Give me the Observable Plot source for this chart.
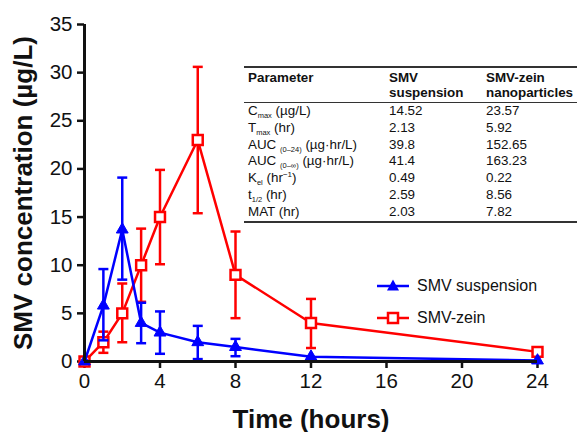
<!DOCTYPE html>
<html><head><meta charset="utf-8">
<script src="https://cdn.jsdelivr.net/npm/d3@7"></script>
<script src="https://cdn.jsdelivr.net/npm/@observablehq/plot@0.6"></script>
<style>
body{margin:0;background:#fff;font-family:"Liberation Sans",Arial,sans-serif;}
#wrap{position:relative;width:577px;height:432px;overflow:hidden;}
#tbl{position:absolute;left:244px;top:66px;width:333px;border-top:2px solid #333;border-bottom:2px solid #333;font-size:13.4px;color:#111;}
#tbl .hdr{display:flex;font-weight:bold;line-height:15px;height:32px;padding-top:2px;border-bottom:1.6px solid #333;}
#tbl .row{display:flex;height:16.8px;line-height:16.8px;white-space:nowrap;}
#tbl .c1{width:145px;padding-left:4px;box-sizing:border-box;}
#tbl .c2{width:97px;}
#tbl .c3{flex:1;white-space:nowrap;}
#tbl .sub{position:relative;top:3px;font-size:7.5px;line-height:0;}
#tbl .sup{position:relative;top:-5px;font-size:8px;line-height:0;}
#legend{position:absolute;left:376px;top:270px;font-size:16px;color:#111;}
#legend div{display:flex;align-items:center;height:32px;}
#legend svg{margin-right:7px;}
</style>
</head><body>
<div id="wrap"></div>
<script>
const times = [0, 1, 2, 3, 4, 6, 8, 12, 24];
const suspMean  = [0, 5.8, 13.7, 4.0, 3.0, 2.0, 1.5, 0.5, 0.1];
const suspUpper = [0, 9.6, 19.1, 6.1, 5.2, 3.7, 2.35, 0.5, 0.1];
const suspLower = [0, 2.2, 8.5, 1.9, 0.8, 0.25, 0.55, 0.5, 0.1];
const zeinMean  = [0, 2.0, 5.0, 10.0, 15.0, 23.0, 9.0, 4.0, 1.0];
const zeinUpper = [0, 3.1, 8.1, 13.8, 19.9, 30.6, 13.5, 6.5, 1.0];
const zeinLower = [0, 0.9, 2.0, 6.2, 10.1, 15.4, 4.5, 1.4, 1.0];
const seriesNames = ["SMV suspension", "SMV-zein"];
const xTicks = [0, 4, 8, 12, 16, 20, 24];
const yTicks = [0, 5, 10, 15, 20, 25, 30, 35];
const tableHeader = [["Parameter", ""], ["SMV", "suspension"], ["SMV-zein", "nanoparticles"]];
const paramLabels = [
  'C<span class="sub">max</span> (µg/L)',
  'T<span class="sub">max</span> (hr)',
  'AUC <span class="sub">(0–24)</span> (µg·hr/L)',
  'AUC <span class="sub">(0–∞)</span> (µg·hr/L)',
  'K<span class="sub">el</span> (hr<span class="sup">−1</span>)',
  't<span class="sub">1/2</span> (hr)',
  'MAT (hr)'];
const suspParams = ["14.52", "2.13", "39.8", "41.4", "0.49", "2.59", "2.03"];
const zeinParams = ["23.57", "5.92", "152.65", "163.23", "0.22", "8.56", "7.82"];

const BLUE = "#0000ff", RED = "#ff0000";
const susp = times.map((t, i) => ({t, m: suspMean[i], lo: suspLower[i], hi: suspUpper[i]}));
const zein = times.map((t, i) => ({t, m: zeinMean[i], lo: zeinLower[i], hi: zeinUpper[i]}));
const cap = {draw(ctx, size) { const w = Math.sqrt(size / Math.PI); ctx.moveTo(-w, 0); ctx.lineTo(w, 0); }};
const errMarks = (data, color) => {
  const d = data.filter(p => p.hi > p.lo);
  return [
    Plot.ruleX(d, {x: "t", y1: "lo", y2: "hi", stroke: color, strokeWidth: 2.5}),
    Plot.dot(d, {x: "t", y: "hi", symbol: cap, r: 5, stroke: color, strokeWidth: 2.5}),
    Plot.dot(d, {x: "t", y: "lo", symbol: cap, r: 5, stroke: color, strokeWidth: 2.5})
  ];
};

const chart = Plot.plot({
  width: 577, height: 432,
  marginLeft: 84, marginRight: 40, marginTop: 24, marginBottom: 71,
  style: {fontFamily: '"Liberation Sans", Arial, sans-serif', color: "#111", background: "transparent"},
  x: {domain: [0, 24]},
  y: {domain: [0, 35]},
  marks: [
    Plot.axisX({ticks: xTicks, tickSize: 7, tickPadding: 5, strokeWidth: 2.5, fontSize: 20.5, label: "Time (hours)", labelAnchor: "center", labelArrow: "none", labelOffset: 66}),
    Plot.axisY({ticks: yTicks, tickSize: 7, tickPadding: 5, strokeWidth: 2.5, fontSize: 20.5, label: "SMV concentration (µg/L)", labelAnchor: "center", labelArrow: "none", labelOffset: 71}),
    ...errMarks(zein, RED),
    Plot.line(zein, {x: "t", y: "m", stroke: RED, strokeWidth: 2.5}),
    Plot.dot(zein, {x: "t", y: "m", symbol: "square", r: 5.6, stroke: RED, strokeWidth: 2.5, fill: "white"}),
    ...errMarks(susp, BLUE),
    Plot.line(susp, {x: "t", y: "m", stroke: BLUE, strokeWidth: 2.5}),
    Plot.dot(susp, {x: "t", y: "m", symbol: "triangle", r: 4.4, fill: BLUE, stroke: BLUE, strokeWidth: 1}),
    Plot.ruleY([0], {stroke: "#111", strokeWidth: 3}),
    Plot.ruleX([0], {stroke: "#111", strokeWidth: 3})
  ]
});
chart.querySelectorAll("g[aria-label='x-axis label'] text, g[aria-label='y-axis label'] text").forEach(t => {
  t.setAttribute("font-weight", "bold"); t.setAttribute("font-size", "26");
});
const wrap = document.getElementById("wrap");
wrap.appendChild(chart);

// parameter table
const tbl = document.createElement("div");
tbl.id = "tbl";
let html = '<div class="hdr">' + tableHeader.map((h, j) => `<div class="c${j + 1}">${h[0]}${h[1] ? "<br>" + h[1] : ""}</div>`).join("") + "</div>";
paramLabels.forEach((p, i) => {
  html += `<div class="row"><div class="c1">${p}</div><div class="c2">${suspParams[i]}</div><div class="c3">${zeinParams[i]}</div></div>`;
});
tbl.innerHTML = html;
wrap.appendChild(tbl);

// legend
const leg = document.createElement("div");
leg.id = "legend";
const tri = `<svg width="34" height="16"><line x1="1" y1="8" x2="33" y2="8" stroke="${BLUE}" stroke-width="2.5"/><path d="M17,1.5 L23,12.5 L11,12.5 Z" fill="${BLUE}"/></svg>`;
const sq = `<svg width="34" height="16"><line x1="1" y1="8" x2="33" y2="8" stroke="${RED}" stroke-width="2.5"/><rect x="12" y="3" width="10" height="10" fill="white" stroke="${RED}" stroke-width="2.5"/></svg>`;
leg.innerHTML = `<div>${tri}<span>${seriesNames[0]}</span></div><div>${sq}<span>${seriesNames[1]}</span></div>`;
wrap.appendChild(leg);
</script>
</body></html>
